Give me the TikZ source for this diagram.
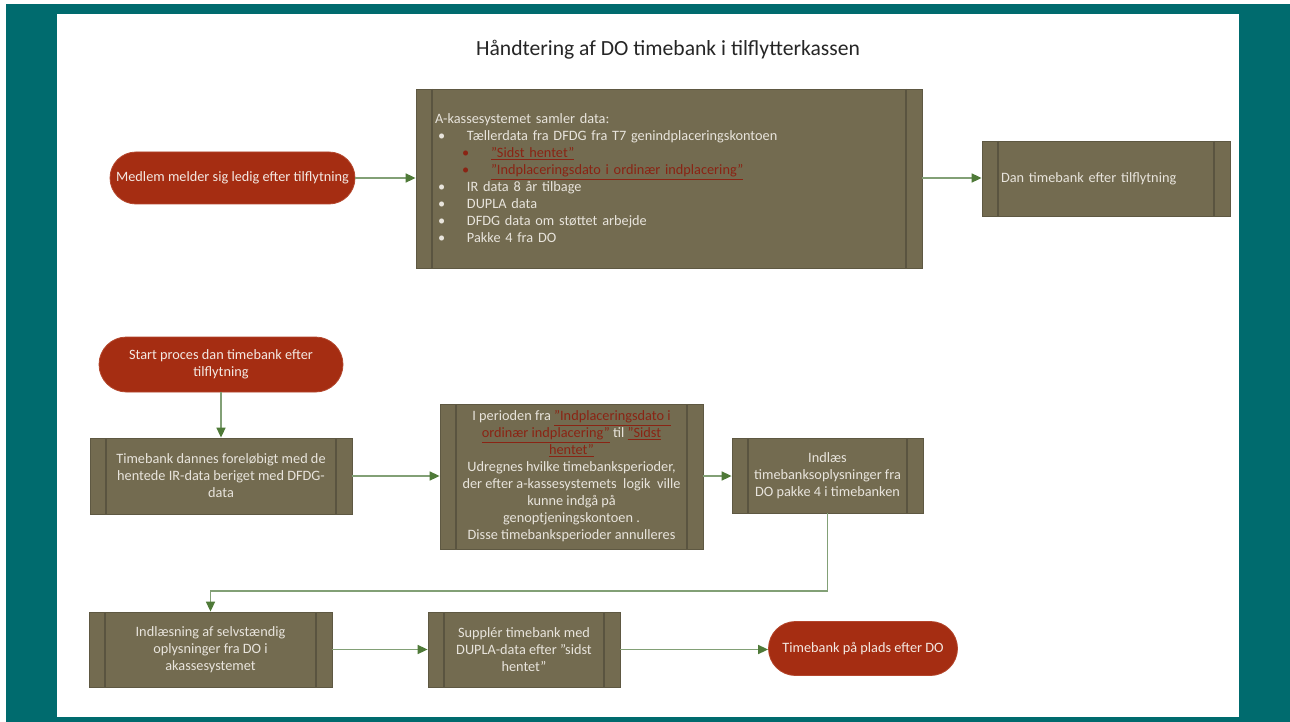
\documentclass[tikz,border=0pt]{standalone}
\usepackage{fontspec}
\setmainfont{Carlito}
\usetikzlibrary{arrows.meta,shapes.misc,shadows}
\definecolor{frameteal}{HTML}{006B6E}
\definecolor{procfill}{HTML}{736B50}
\definecolor{procborder}{HTML}{5E5842}
\definecolor{procline}{HTML}{5A5440}
\definecolor{boxtext}{HTML}{E8E4DC}
\definecolor{termred}{HTML}{A52D12}
\definecolor{termborder}{HTML}{B4462C}
\definecolor{termtext}{HTML}{F3E8E2}
\definecolor{linkred}{HTML}{8A2414}
\definecolor{connline}{HTML}{82A076}
\definecolor{conntip}{HTML}{4F7A38}
\newcommand\lnk[1]{\textcolor{linkred}{\underline{#1}}}
\newcommand\bul{\makebox[32pt][l]{\hspace{3pt}•}}
\newcommand\subbul{\hspace{27pt}\makebox[29pt][l]{\textcolor{linkred}{•}}}
\begin{document}
\begin{tikzpicture}[x=1pt,y=-1pt,
  boxfont/.style={font=\fontsize{14.3}{17}\selectfont},
  proc/.style={boxfont, draw=procborder, line width=0.8pt, fill=procfill, text=boxtext,
    align=center, inner sep=2pt,
    drop shadow={opacity=0.25, shadow xshift=1.2pt, shadow yshift=-1.2pt},
    path picture={\draw[procline, line width=1.2pt]
      ([xshift=16pt]path picture bounding box.north west) -- ([xshift=16pt]path picture bounding box.south west)
      ([xshift=-16pt]path picture bounding box.north east) -- ([xshift=-16pt]path picture bounding box.south east);}},
  term/.style={boxfont, rounded rectangle, draw=termborder, line width=0.8pt, fill=termred, text=termtext,
    align=center, inner sep=2pt},
  conn/.style={draw=connline, line width=1.6pt, -{Triangle[length=10pt,width=9pt,color=conntip]}}
]
\useasboundingbox (0,0) rectangle (1290,722);
\fill[white] (0,0) rectangle (1290,722);
\fill[frameteal] (6,4) rectangle (1290,722);
\fill[white] (57,14) rectangle (1239,717);

\node[font=\fontsize{21.6}{25}\selectfont, text=black!85] (title) at (668,50) {Håndtering af DO timebank i tilflytterkassen};

\node[term, minimum width=249pt, minimum height=52pt] (b1) at (232.5,178) {Medlem melder sig ledig efter tilflytning};

\node[proc, align=left, text width=468pt, inner sep=19pt, minimum width=506pt, minimum height=179pt] (b2) at (669,178.5) {%
A-kassesystemet samler data:\\
\bul Tællerdata fra DFDG fra T7 genindplaceringskontoen\\
\subbul\lnk{"Sidst hentet"}\\
\subbul\lnk{"Indplaceringsdato i ordinær indplacering"}\\
\bul IR data 8 år tilbage\\
\bul DUPLA data\\
\bul DFDG data om støttet arbejde\\
\bul Pakke 4 fra DO};

\node[proc, align=left, text width=210pt, inner sep=19pt, minimum width=248pt, minimum height=75pt] (b3) at (1106,178.5) {Dan timebank efter tilflytning};

\node[term, minimum width=248pt, minimum height=55pt] (b4) at (221,364.5) {Start proces dan timebank efter\\tilflytning};

\node[proc, minimum width=262pt, minimum height=76pt] (b5) at (221,476) {Timebank dannes foreløbigt med de\\hentede IR-data beriget med DFDG-\\data};

\node[proc, minimum width=263pt, minimum height=145pt] (b6) at (571.5,476.5) {I perioden fra \lnk{"Indplaceringsdato i}\\
\lnk{ordinær indplacering"} til \lnk{"Sidst}\\
\lnk{hentet"}\\
Udregnes hvilke timebanksperioder,\\
der efter a-kassesystemets\ \ logik\ \ ville\\
kunne indgå på\\
genoptjeningskontoen .\\
Disse timebanksperioder annulleres};

\node[proc, minimum width=191pt, minimum height=75pt] (b7) at (827.5,475.5) {Indlæs\\timebanksoplysninger fra\\DO pakke 4 i timebanken};

\node[proc, minimum width=243pt, minimum height=75pt] (b8) at (210.5,649.5) {Indlæsning af selvstændig\\oplysninger fra DO i\\akassesystemet};

\node[proc, minimum width=192pt, minimum height=75pt] (b9) at (524,649.5) {Supplér timebank med\\DUPLA-data efter "sidst\\hentet"};

\node[term, minimum width=193pt, minimum height=54pt] (b10) at (863,648.5) {Timebank på plads efter DO};

\coordinate (bendy) at (0,591);

\draw[conn] (b1.east) -- (b1.east -| b2.west);
\draw[conn] (b1.east -| b2.east) -- (b1.east -| b3.west);
\draw[conn] (b4.south) -- (b5.north);
\draw[conn] (b5.east) -- (b5.east -| b6.west);
\draw[conn] (b5.east -| b6.east) -- (b5.east -| b7.west);
\draw[conn] (b7.south) -- (b7.south |- bendy) -| (b8.north);
\draw[conn] (b8.east) -- (b8.east -| b9.west);
\draw[conn] (b8.east -| b9.east) -- (b8.east -| b10.west);
\end{tikzpicture}
\end{document}
